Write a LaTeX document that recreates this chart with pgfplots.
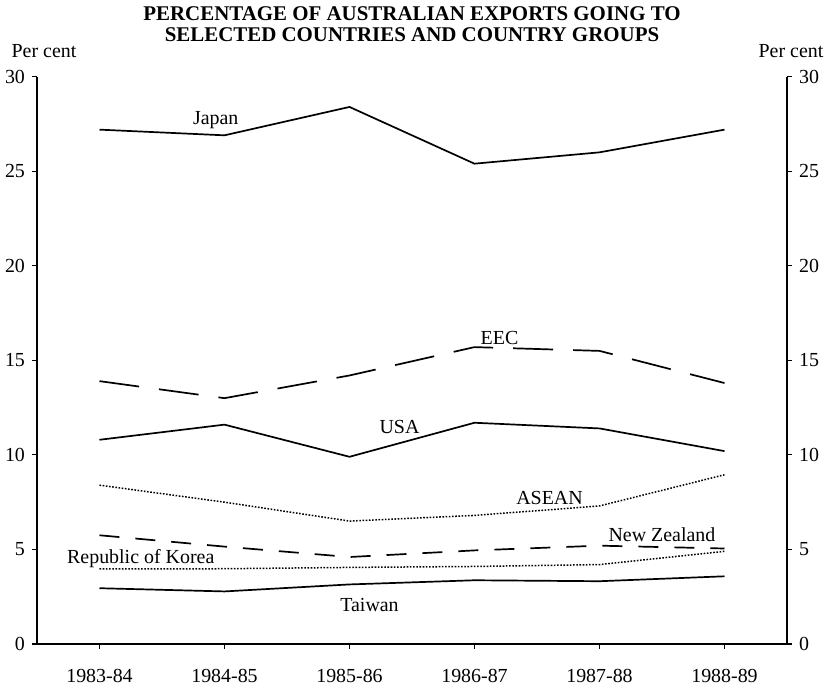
\documentclass[border=0pt]{standalone}
\usepackage{fontspec}
\setmainfont{Liberation Serif}
\usepackage{pgfplots}
\pgfplotsset{compat=1.18}
\begin{document}
\begin{tikzpicture}
\pgfplotsset{
  common/.style={
    width=375bp, height=283.65bp, scale only axis,
    xmin=-0.5, xmax=5.5, ymin=0, ymax=30,
    ytick={0,5,...,30},
    tick align=outside,
    major tick length=2.5bp,
    tick style={black, line width=0.6bp},
    axis line style={line width=0.8bp, -},
    /pgf/number format/assume math mode=true,
    ticklabel style={font=\fontsize{10}{12}\selectfont},
  }
}
\begin{axis}[common,
  axis x line*=bottom, axis y line*=left,
  xtick={0,...,5},
  xticklabels={1983-84,1984-85,1985-86,1986-87,1987-88,1988-89},
  xticklabel style={anchor=base, yshift=-16.5bp},
  every axis plot/.append style={black, line width=0.85bp, mark=none},
  clip=false,
]
\coordinate (O) at (rel axis cs:0,0);
% Japan
\addplot[black, solid] coordinates {(0,27.2) (1,26.9) (2,28.4) (3,25.4) (4,26.0) (5,27.2)};
% EEC
\addplot[black, dash pattern=on 20bp off 10bp] coordinates {(0,13.9) (1,13.0) (2,14.2) (3,15.7) (4,15.5) (5,13.8)};
% USA
\addplot[black, solid] coordinates {(0,10.8) (1,11.6) (2,9.9) (3,11.7) (4,11.4) (5,10.2)};
% ASEAN
\addplot[black, line width=0.75bp, dash pattern=on 0.8bp off 0.8bp] coordinates {(0,8.4) (1,7.5) (2,6.5) (3,6.8) (4,7.3) (5,8.95)};
% New Zealand
\addplot[black, dash pattern=on 10bp off 8bp] coordinates {(0,5.75) (1,5.15) (2,4.6) (3,4.95) (4,5.2) (5,5.05)};
% Republic of Korea
\addplot[black, line width=0.75bp, dash pattern=on 0.8bp off 0.8bp] coordinates {(0,3.97) (1,3.98) (2,4.05) (3,4.1) (4,4.2) (5,4.9)};
% Taiwan
\addplot[black, solid] coordinates {(0,2.95) (1,2.78) (2,3.15) (3,3.37) (4,3.32) (5,3.58)};
\begin{scope}[every node/.style={font=\fontsize{10}{12}\selectfont, inner sep=0pt}]
\node at (axis cs:0.93,27.7) {Japan};
\node at (axis cs:3.2,16.2) {EEC};
\node at (axis cs:2.4,11.5) {USA};
\node at (axis cs:3.6,7.7) {ASEAN};
\node at (axis cs:4.5,5.8) {New Zealand};
\node at (axis cs:0.33,4.5) {Republic of Korea};
\node at (axis cs:2.16,2.07) {Taiwan};
\end{scope}
\end{axis}
\begin{axis}[common,
  axis x line=none, axis y line*=right,
  xtick=\empty,
]
\end{axis}
\node[anchor=base, font=\bfseries\fontsize{10.5}{12}\selectfont, inner sep=0pt] at ([shift={(187.5bp,311.5bp)}]O) {PERCENTAGE OF AUSTRALIAN EXPORTS GOING TO};
\node[anchor=base, font=\bfseries\fontsize{10.5}{12}\selectfont, inner sep=0pt] at ([shift={(187.5bp,301bp)}]O) {SELECTED COUNTRIES AND COUNTRY GROUPS};
\node[anchor=base, font=\fontsize{10}{12}\selectfont, inner sep=0pt] at ([shift={(3.5bp,293bp)}]O) {Per cent};
\node[anchor=base, font=\fontsize{10}{12}\selectfont, inner sep=0pt] at ([shift={(377bp,293bp)}]O) {Per cent};
\pgfresetboundingbox
\path ([shift={(-18.5bp,-21bp)}]O) rectangle ++(412bp,343bp);
\end{tikzpicture}
\end{document}
